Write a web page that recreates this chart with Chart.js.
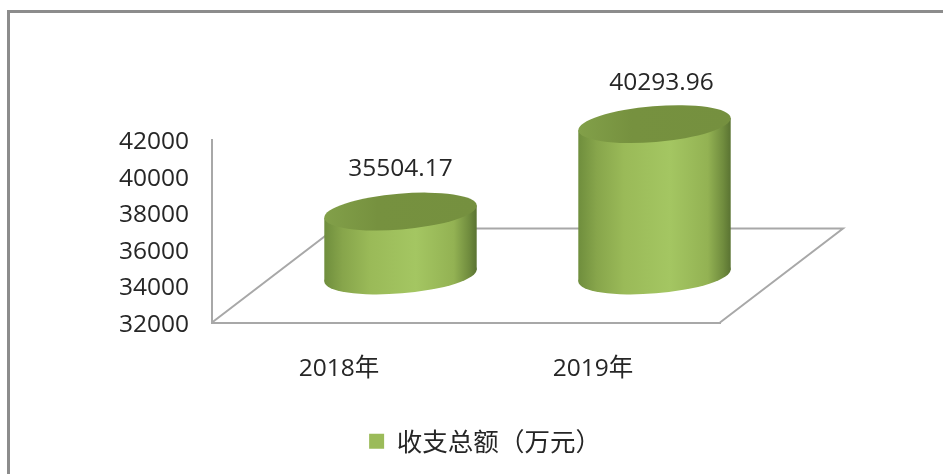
<!DOCTYPE html>
<html lang="zh">
<head>
<meta charset="utf-8">
<title>收支总额</title>
<script src="https://cdn.jsdelivr.net/npm/chart.js@4"></script>
<style>
  html, body { margin: 0; padding: 0; background: #fff; overflow: hidden; }
  canvas { display: block; }
</style>
</head>
<body>
<canvas id="budgetChart" width="943" height="474"></canvas>
<script>
// Chart data
const categories = ["2018年", "2019年"];
const totals = [35504.17, 40293.96];
const seriesName = "收支总额（万元）";
const axisMin = 32000;
const axisMax = 42000;
const axisStep = 2000;

const latinFont = "'Open Sans', sans-serif";
const cjkFont = "'Open Sans', 'Noto Sans CJK SC', sans-serif";
const textColor = "#262626";
const lineColor = "#a8a8a8";

// The 3D floor runs back from the front axis by this much
const depthX = 123;
const depthY = 94;

// Data labels were moved by hand in the original, so each has its own nudge
const labelNudge = [{ x: 0, y: -43 }, { x: 7, y: -41 }];

// Function: To fill a tilted ellipse
function fillEllipse(ctx, x, y, a, b, fill) {
  ctx.fillStyle = fill;
  ctx.beginPath();
  ctx.ellipse(x, y, a, b, (-4.75 * Math.PI) / 180, 0, Math.PI * 2);
  ctx.fill();
}

// Function: To draw one cylinder from a bar element
function drawCylinder(ctx, bar, basePixel) {
  const cx = bar.x + depthX / 2;
  const top = bar.y - depthY / 2;
  const bottom = basePixel - depthY / 2;
  const half = bar.width / 2;
  const a = half * 1.003;
  const b = half * 0.235;
  const tilt = half * 0.08; // height difference at the widest points

  const body = ctx.createLinearGradient(cx - half, 0, cx + half, 0);
  body.addColorStop(0, "#6f8e3d");
  body.addColorStop(0.12, "#87a54b");
  body.addColorStop(0.3, "#9aba58");
  body.addColorStop(0.6, "#a4c662");
  body.addColorStop(0.85, "#93b253");
  body.addColorStop(0.95, "#708c3e");
  body.addColorStop(1, "#5a7332");

  fillEllipse(ctx, cx, bottom, a, b, body);
  ctx.fillStyle = body;
  ctx.beginPath();
  ctx.moveTo(cx - half, top + tilt);
  ctx.lineTo(cx + half, top - tilt);
  ctx.lineTo(cx + half, bottom - tilt);
  ctx.lineTo(cx - half, bottom + tilt);
  ctx.closePath();
  ctx.fill();

  const lid = ctx.createLinearGradient(cx - half, 0, cx + half, 0);
  lid.addColorStop(0, "#82a049");
  lid.addColorStop(0.35, "#76913f");
  lid.addColorStop(1, "#75903f");
  fillEllipse(ctx, cx, top, a, b, lid);
}

// Plugin: outer frame, 3D floor and the cylinders with their labels
const cylinderPlugin = {
  id: "cylinderPlugin",
  afterLayout(chart) {
    // Sit the value labels a little lower, level with their ticks
    chart.scales.y.getLabelItems(chart.chartArea).forEach((item) => {
      item.options.translation[1] += 2.5;
    });
  },
  beforeDraw(chart) {
    const ctx = chart.ctx;
    ctx.save();
    ctx.strokeStyle = "#8c8c8c";
    ctx.lineWidth = 3;
    ctx.beginPath();
    ctx.moveTo(8.5, chart.height);
    ctx.lineTo(8.5, 11.5);
    ctx.lineTo(chart.width, 11.5);
    ctx.stroke();
    ctx.restore();
  },
  beforeDatasetDraw(chart) {
    const ctx = chart.ctx;
    const area = chart.chartArea;
    const backY = area.bottom - depthY;

    ctx.save();
    ctx.strokeStyle = lineColor;
    ctx.lineWidth = 2;
    ctx.beginPath();
    ctx.moveTo(area.left, area.bottom);
    ctx.lineTo(area.left + depthX, backY);
    ctx.lineTo(area.right + depthX, backY);
    ctx.lineTo(area.right, area.bottom);
    ctx.stroke();

    const bars = chart.getDatasetMeta(0).data;
    const basePixel = chart.scales.y.getPixelForValue(axisMin);
    bars.forEach((bar) => drawCylinder(ctx, bar, basePixel));

    ctx.fillStyle = textColor;
    ctx.font = "24.5px " + latinFont;
    ctx.textAlign = "center";
    ctx.textBaseline = "middle";
    bars.forEach((bar, i) => {
      const x = bar.x + depthX / 2 + labelNudge[i].x;
      const y = bar.y - depthY / 2 + labelNudge[i].y;
      ctx.fillText(totals[i].toFixed(2), x, y);
    });
    ctx.restore();

    // The flat bars are replaced by the cylinders above
    return false;
  },
};

const ctx = document.getElementById("budgetChart").getContext("2d");

new Chart(ctx, {
  type: "bar",
  data: {
    labels: categories,
    datasets: [
      {
        label: seriesName,
        data: totals,
        backgroundColor: "#9bbb59",
        borderWidth: 0,
        categoryPercentage: 1,
        barPercentage: 0.6,
        yAxisID: "y",
      },
    ],
  },
  options: {
    responsive: false,
    animation: false,
    layout: {
      padding: { left: 27, top: 140, right: 0, bottom: 10 },
    },
    scales: {
      x: {
        grid: { display: false, drawTicks: false },
        border: { color: lineColor, width: 2 },
        ticks: {
          color: textColor,
          font: { family: cjkFont, size: 24.5 },
          padding: 32,
        },
        afterFit(scale) {
          scale.height = 96;
        },
      },
      y: {
        min: axisMin,
        max: axisMax,
        grid: { display: false, drawTicks: false },
        border: { color: lineColor, width: 2 },
        ticks: {
          stepSize: axisStep,
          color: textColor,
          font: { family: latinFont, size: 24.5 },
          padding: 23,
          callback: (value) => String(value),
        },
        afterFit(scale) {
          scale.width = 185;
        },
      },
      // Empty axis: only keeps the plot clear of the floor's right corner
      spacer: {
        position: "right",
        grid: { display: false, drawTicks: false },
        border: { display: false },
        ticks: { display: false },
        afterFit(scale) {
          scale.width = 223;
        },
      },
    },
    plugins: {
      legend: {
        position: "bottom",
        labels: {
          boxWidth: 15,
          boxHeight: 15,
          color: textColor,
          font: { family: "'Noto Sans CJK SC', sans-serif", size: 25.5 },
        },
      },
      tooltip: { enabled: false },
    },
  },
  plugins: [cylinderPlugin],
});
</script>
</body>
</html>
